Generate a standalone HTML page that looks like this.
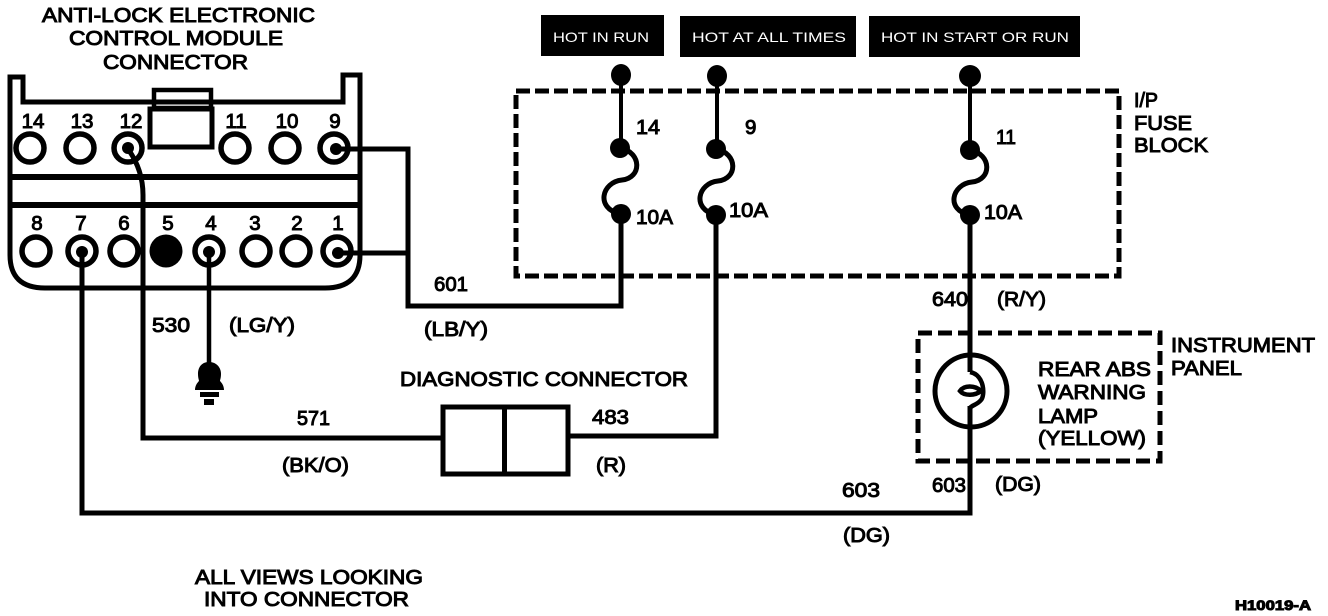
<!DOCTYPE html>
<html><head><meta charset="utf-8"><style>
html,body{margin:0;padding:0;background:#fff}
svg{display:block}
text{font-family:"Liberation Sans",sans-serif;font-size:20.5px;fill:#000;stroke:#000;stroke-width:1px}
.n{text-anchor:middle}
.w{font-size:14px;fill:#fff;stroke:none}
</style></head><body>
<svg width="1328" height="616" viewBox="0 0 1328 616" xmlns="http://www.w3.org/2000/svg">
<rect width="1328" height="616" fill="#fff"/>
<g fill="none" stroke="#000" stroke-width="5">
<path d="M10 77H23V102H343V75H360V255Q360 288 325 288H45Q10 288 10 255Z"/>
<path d="M10 177H360M10 205H360" stroke-width="6"/>
<rect x="154" y="90" width="57" height="18" stroke-width="4.500"/>
<rect x="150" y="109" width="62" height="38" fill="#fff"/>
<g stroke-width="5.5">
<circle cx="30" cy="148" r="14"/><circle cx="80" cy="148" r="14"/><circle cx="128" cy="148" r="14"/>
<circle cx="235" cy="148" r="14"/><circle cx="285" cy="148" r="14"/><circle cx="334" cy="148" r="14"/>
<circle cx="36" cy="251" r="14"/><circle cx="82" cy="251" r="14"/><circle cx="124" cy="251" r="14"/>
<circle cx="209" cy="251" r="14"/><circle cx="256" cy="251" r="14"/><circle cx="296" cy="251" r="14"/><circle cx="337" cy="251" r="14"/>
</g>
<path d="M408 149V306H621V214M340 149H410.500M340 253H408"/>
<path d="M128 149Q143 170 143 195V438H442"/>
<path d="M82 253V513H972.500"/>
<path d="M209 253V368" stroke-width="4.5"/>
<path d="M621 75V148M717 76V149M970 76V150" stroke-width="4"/>
<path d="M716 215V436H570M970 215V372" />
<path d="M970 406V515.500"/>
<rect x="443" y="407" width="125" height="67"/>
<path d="M504.500 405V476"/>
<path d="M620 148C642 152 642 178 622 180C602 182 595 208 620 214M716 149C738 153 738 179 718 181C698 183 691 209 716 215M970 150C992 154 992 180 972 182C952 184 945 210 970 215"/>
<circle cx="971" cy="391" r="36"/>
<path d="M970 372C985 375 985 396 981 400C977 405 972 405 970 408M981 391C975 385 964 385 960 391C964 396 975 396 981 391" stroke-width="4.500"/>
<path d="M516 91H1119V276H516Z" stroke-dasharray="14 5"/>
<path d="M918 333H1160V461H918Z" stroke-dasharray="14 6"/>
</g>
<circle cx="166" cy="251" r="16.500" fill="#000"/>
<g fill="#000">
<circle cx="128" cy="148" r="6"/><circle cx="336" cy="149" r="6"/><circle cx="82" cy="252" r="6"/><circle cx="209" cy="252" r="6"/><circle cx="338" cy="253" r="6"/>
<ellipse cx="621" cy="75" rx="10" ry="11"/><ellipse cx="717" cy="76" rx="10" ry="11"/><ellipse cx="970" cy="76" rx="11" ry="11"/>
<ellipse cx="620" cy="148" rx="10" ry="10"/><ellipse cx="716" cy="149" rx="10" ry="10"/><ellipse cx="970" cy="150" rx="10" ry="10"/>
<ellipse cx="621" cy="214" rx="10" ry="10"/><ellipse cx="716" cy="215" rx="10" ry="10"/><ellipse cx="970" cy="215" rx="10" ry="10"/>
<path d="M209 362C217 362 221 368 221 374C221 378 220 380 220 381C222 383 224 386 224 390H195C195 386 197 383 199 381C199 380 198 378 198 374C198 368 201 362 209 362Z"/>
<rect x="200" y="392" width="19" height="5"/><rect x="204" y="399" width="10" height="6"/>
<rect x="541" y="15" width="123" height="41"/><rect x="680" y="16" width="176" height="41"/><rect x="869" y="16" width="211" height="41"/>
</g>
<text class="w" x="553" y="42" textLength="96" lengthAdjust="spacingAndGlyphs">HOT IN RUN</text>
<text class="w" x="692" y="42" textLength="154" lengthAdjust="spacingAndGlyphs">HOT AT ALL TIMES</text>
<text class="w" x="881" y="42" textLength="188" lengthAdjust="spacingAndGlyphs">HOT IN START OR RUN</text>
<text x="42" y="22" textLength="273" lengthAdjust="spacingAndGlyphs">ANTI-LOCK ELECTRONIC</text>
<text x="69" y="45" textLength="214" lengthAdjust="spacingAndGlyphs">CONTROL MODULE</text>
<text x="103" y="69" textLength="145" lengthAdjust="spacingAndGlyphs">CONNECTOR</text>
<g class="n">
<text class="n" x="33" y="128">14</text><text class="n" x="82" y="128">13</text><text class="n" x="131" y="128">12</text><text class="n" x="236" y="128">11</text><text class="n" x="287" y="128">10</text><text class="n" x="335" y="128">9</text>
<text class="n" x="37" y="230">8</text><text class="n" x="81" y="230">7</text><text class="n" x="124" y="230">6</text><text class="n" x="168" y="230">5</text><text class="n" x="211" y="230">4</text><text class="n" x="255" y="230">3</text><text class="n" x="297" y="230">2</text><text class="n" x="338" y="230">1</text>
</g>
<text x="434" y="291" textLength="34" lengthAdjust="spacingAndGlyphs">601</text>
<text x="424" y="336" textLength="64" lengthAdjust="spacingAndGlyphs">(LB/Y)</text>
<text x="152" y="332" textLength="38" lengthAdjust="spacingAndGlyphs">530</text>
<text x="229" y="332" textLength="66" lengthAdjust="spacingAndGlyphs">(LG/Y)</text>
<text x="400" y="386" textLength="288" lengthAdjust="spacingAndGlyphs">DIAGNOSTIC CONNECTOR</text>
<text x="297" y="425" textLength="33" lengthAdjust="spacingAndGlyphs">571</text>
<text x="282" y="472" textLength="67" lengthAdjust="spacingAndGlyphs">(BK/O)</text>
<text x="592" y="424" textLength="37" lengthAdjust="spacingAndGlyphs">483</text>
<text x="596" y="472" textLength="30" lengthAdjust="spacingAndGlyphs">(R)</text>
<text x="842" y="497" textLength="38" lengthAdjust="spacingAndGlyphs">603</text>
<text x="843" y="542" textLength="47" lengthAdjust="spacingAndGlyphs">(DG)</text>
<text x="932" y="492" textLength="34" lengthAdjust="spacingAndGlyphs">603</text>
<text x="995" y="491" textLength="46" lengthAdjust="spacingAndGlyphs">(DG)</text>
<text x="932" y="306" textLength="36" lengthAdjust="spacingAndGlyphs">640</text>
<text x="997" y="306" textLength="49" lengthAdjust="spacingAndGlyphs">(R/Y)</text>
<text x="636" y="134" textLength="24" lengthAdjust="spacingAndGlyphs">14</text>
<text x="745" y="134">9</text>
<text x="996" y="144" textLength="20" lengthAdjust="spacingAndGlyphs">11</text>
<text x="636" y="224" textLength="37" lengthAdjust="spacingAndGlyphs">10A</text>
<text x="729" y="217" textLength="39" lengthAdjust="spacingAndGlyphs">10A</text>
<text x="984" y="219" textLength="38" lengthAdjust="spacingAndGlyphs">10A</text>
<text x="1134" y="107" textLength="24" lengthAdjust="spacingAndGlyphs">I/P</text>
<text x="1134" y="130" textLength="58" lengthAdjust="spacingAndGlyphs">FUSE</text>
<text x="1134" y="152" textLength="74" lengthAdjust="spacingAndGlyphs">BLOCK</text>
<text x="1171" y="352" textLength="144" lengthAdjust="spacingAndGlyphs">INSTRUMENT</text>
<text x="1171" y="375" textLength="71" lengthAdjust="spacingAndGlyphs">PANEL</text>
<text x="1038" y="376" textLength="113" lengthAdjust="spacingAndGlyphs">REAR ABS</text>
<text x="1038" y="399" textLength="108" lengthAdjust="spacingAndGlyphs">WARNING</text>
<text x="1038" y="423" textLength="60" lengthAdjust="spacingAndGlyphs">LAMP</text>
<text x="1038" y="445" textLength="108" lengthAdjust="spacingAndGlyphs">(YELLOW)</text>
<text x="195" y="584" textLength="228" lengthAdjust="spacingAndGlyphs">ALL VIEWS LOOKING</text>
<text x="204" y="606" textLength="205" lengthAdjust="spacingAndGlyphs">INTO CONNECTOR</text>
<text x="1235" y="610" style="font-size:14px;font-weight:bold" textLength="76" lengthAdjust="spacingAndGlyphs">H10019-A</text>
</svg>
</body></html>
